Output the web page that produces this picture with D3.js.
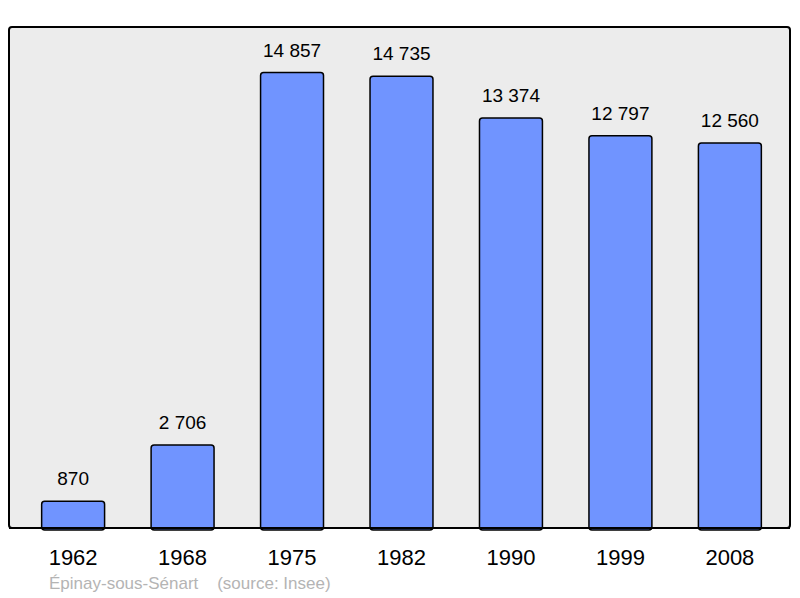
<!DOCTYPE html>
<html>
<head>
<meta charset="utf-8">
<script src="https://cdn.jsdelivr.net/npm/d3@7"></script>
<style>
  body { margin: 0; background: #fff; }
  text { font-family: "Liberation Sans", Arial, sans-serif; }
</style>
</head>
<body>
<div id="chart"></div>
<script>
const years = ["1962", "1968", "1975", "1982", "1990", "1999", "2008"];
const population = [870, 2706, 14857, 14735, 13374, 12797, 12560];
const place = "Épinay-sous-Sénart";
const source = "(source: Insee)";

const W = 800, H = 598;
const frame = {left: 9, top: 27, right: 790, bottom: 528};

const svg = d3.select("#chart").append("svg")
    .attr("width", W)
    .attr("height", H);

// fond gris du graphique
svg.append("rect")
    .attr("x", frame.left)
    .attr("y", frame.top)
    .attr("width", frame.right - frame.left)
    .attr("height", frame.bottom - frame.top)
    .attr("rx", 3)
    .style("fill", "#ececec")
    .style("stroke", "#000")
    .style("stroke-width", 2);

const x = d3.scaleBand()
    .domain(years)
    .range([frame.left + 2, frame.right + 2])
    .paddingInner(0.425)
    .paddingOuter(0.28);

const y = d3.scaleLinear()
    .domain([0, d3.max(population) * 1.1])
    .range([frame.bottom, frame.top]);

const data = years.map((yr, i) => ({year: yr, value: population[i]}));

svg.selectAll(".bar")
    .data(data)
    .enter().append("rect")
    .attr("class", "bar")
    .attr("x", d => x(d.year))
    .attr("y", d => y(d.value))
    .attr("width", x.bandwidth())
    .attr("height", d => frame.bottom - y(d.value) + 2)
    .attr("rx", 3)
    .style("fill", "#7094ff")
    .style("stroke", "#000")
    .style("stroke-width", 1.5);

// on redessine le bas du cadre par-dessus les barres
svg.append("line")
    .attr("x1", frame.left)
    .attr("x2", frame.right)
    .attr("y1", frame.bottom)
    .attr("y2", frame.bottom)
    .style("stroke", "#000")
    .style("stroke-width", 2);

const fmt = v => d3.format(",")(v).replace(/,/g, " ");

svg.selectAll(".val")
    .data(data)
    .enter().append("text")
    .attr("class", "val")
    .attr("x", d => x(d.year) + x.bandwidth() / 2)
    .attr("y", d => y(d.value) - 16)
    .attr("text-anchor", "middle")
    .style("font-size", "19px")
    .style("fill", "#000")
    .text(d => fmt(d.value));

const xAxis = svg.append("g")
    .attr("transform", "translate(0," + frame.bottom + ")")
    .call(d3.axisBottom(x).tickSize(0).tickPadding(21));
xAxis.select(".domain").remove();
xAxis.selectAll("text")
    .style("font-size", "22px")
    .style("fill", "#000")
    .style("font-family", "Liberation Sans, Arial, sans-serif");

svg.append("text")
    .attr("x", 49)
    .attr("y", 589)
    .style("font-size", "17px")
    .style("fill", "#b4b4b4")
    .attr("xml:space", "preserve")
    .text(place + "    " + source);
</script>
</body>
</html>
